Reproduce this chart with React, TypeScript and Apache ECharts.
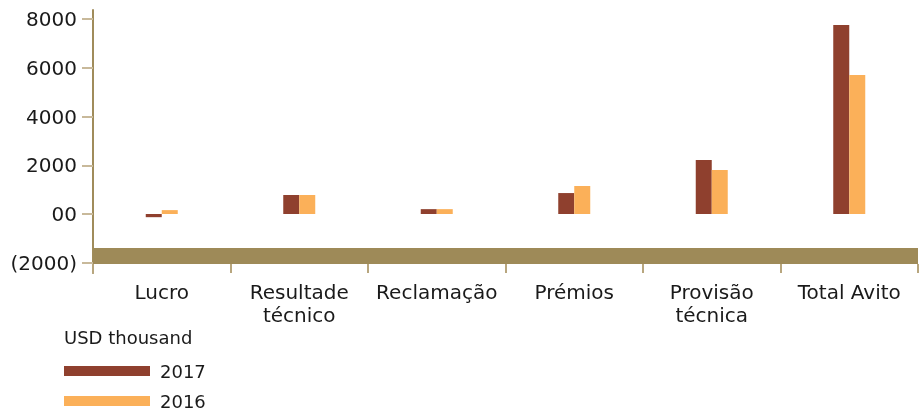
import React, { useEffect, useRef } from "react";
import * as echarts from "echarts";

const categories = ["Lucro", "Resultade\ntécnico", "Reclamação", "Prémios", "Provisão\ntécnica", "Total Avito"];
const series2017 = [-130, 780, 200, 860, 2215, 7755];
const series2016 = [160, 780, 200, 1150, 1805, 5700];
const yTicks = [-2000, 0, 2000, 4000, 6000, 8000];
const unitLabel = "USD thousand";

export default function App() {
  const ref = useRef<HTMLDivElement>(null);
  useEffect(() => {
    if (!ref.current) return;
    const chart = echarts.init(ref.current, null, { renderer: "svg" });
    const font = "DejaVu Sans";
    chart.setOption({
      animation: false,
      textStyle: { fontFamily: font },
      title: {
        text: unitLabel,
        left: 64,
        top: 328,
        padding: 0,
        textStyle: { fontFamily: font, fontSize: 18, fontWeight: "normal", color: "#1a1a1a" },
      },
      legend: {
        orient: "vertical",
        left: 64,
        top: 362,
        padding: 0,
        itemWidth: 86,
        itemHeight: 10,
        itemGap: 12,
        icon: "rect",
        textStyle: { fontFamily: font, fontSize: 18, color: "#1a1a1a", padding: [0, 0, 0, 5] },
        data: ["2017", "2016"],
      },
      grid: { left: 93, right: 1, top: 10, bottom: 137, containLabel: false },
      xAxis: {
        type: "category",
        data: categories,
        axisLine: { show: false, onZero: false },
        axisTick: { show: true, inside: true, length: 9, lineStyle: { color: "#b8a67e", width: 2 } },
        axisLabel: { fontFamily: font, fontSize: 20, color: "#1a1a1a", margin: 7, lineHeight: 23, interval: 0 },
      },
      yAxis: {
        type: "value",
        min: -2420,
        max: 8370,
        splitLine: { show: false },
        axisLine: { show: true, lineStyle: { color: "#a08c5b", width: 2 } },
        axisTick: { show: true, length: 11, customValues: yTicks, lineStyle: { color: "#c8b99a", width: 2 } },
        axisLabel: {
          customValues: yTicks,
          margin: 16,
          fontFamily: font,
          fontSize: 20,
          color: "#1a1a1a",
          formatter: (v: number) => (v === 0 ? "00" : v < 0 ? `(${-v})` : `${v}`),
        },
      },
      series: [
        {
          name: "2017",
          type: "bar",
          data: series2017,
          barWidth: 16,
          barGap: "0%",
          itemStyle: { color: "#8f402e" },
          markArea: {
            silent: true,
            itemStyle: { color: "#9e8a58", opacity: 1 },
            data: [[{ yAxis: -1395 }, { yAxis: -2051 }]],
          },
        },
        {
          name: "2016",
          type: "bar",
          data: series2016,
          barWidth: 16,
          barGap: "0%",
          itemStyle: { color: "#fbb059" },
        },
      ],
    });
    return () => chart.dispose();
  }, []);
  return <div ref={ref} style={{ position: "fixed", left: 0, top: 0, width: 919, height: 410 }} />;
}
